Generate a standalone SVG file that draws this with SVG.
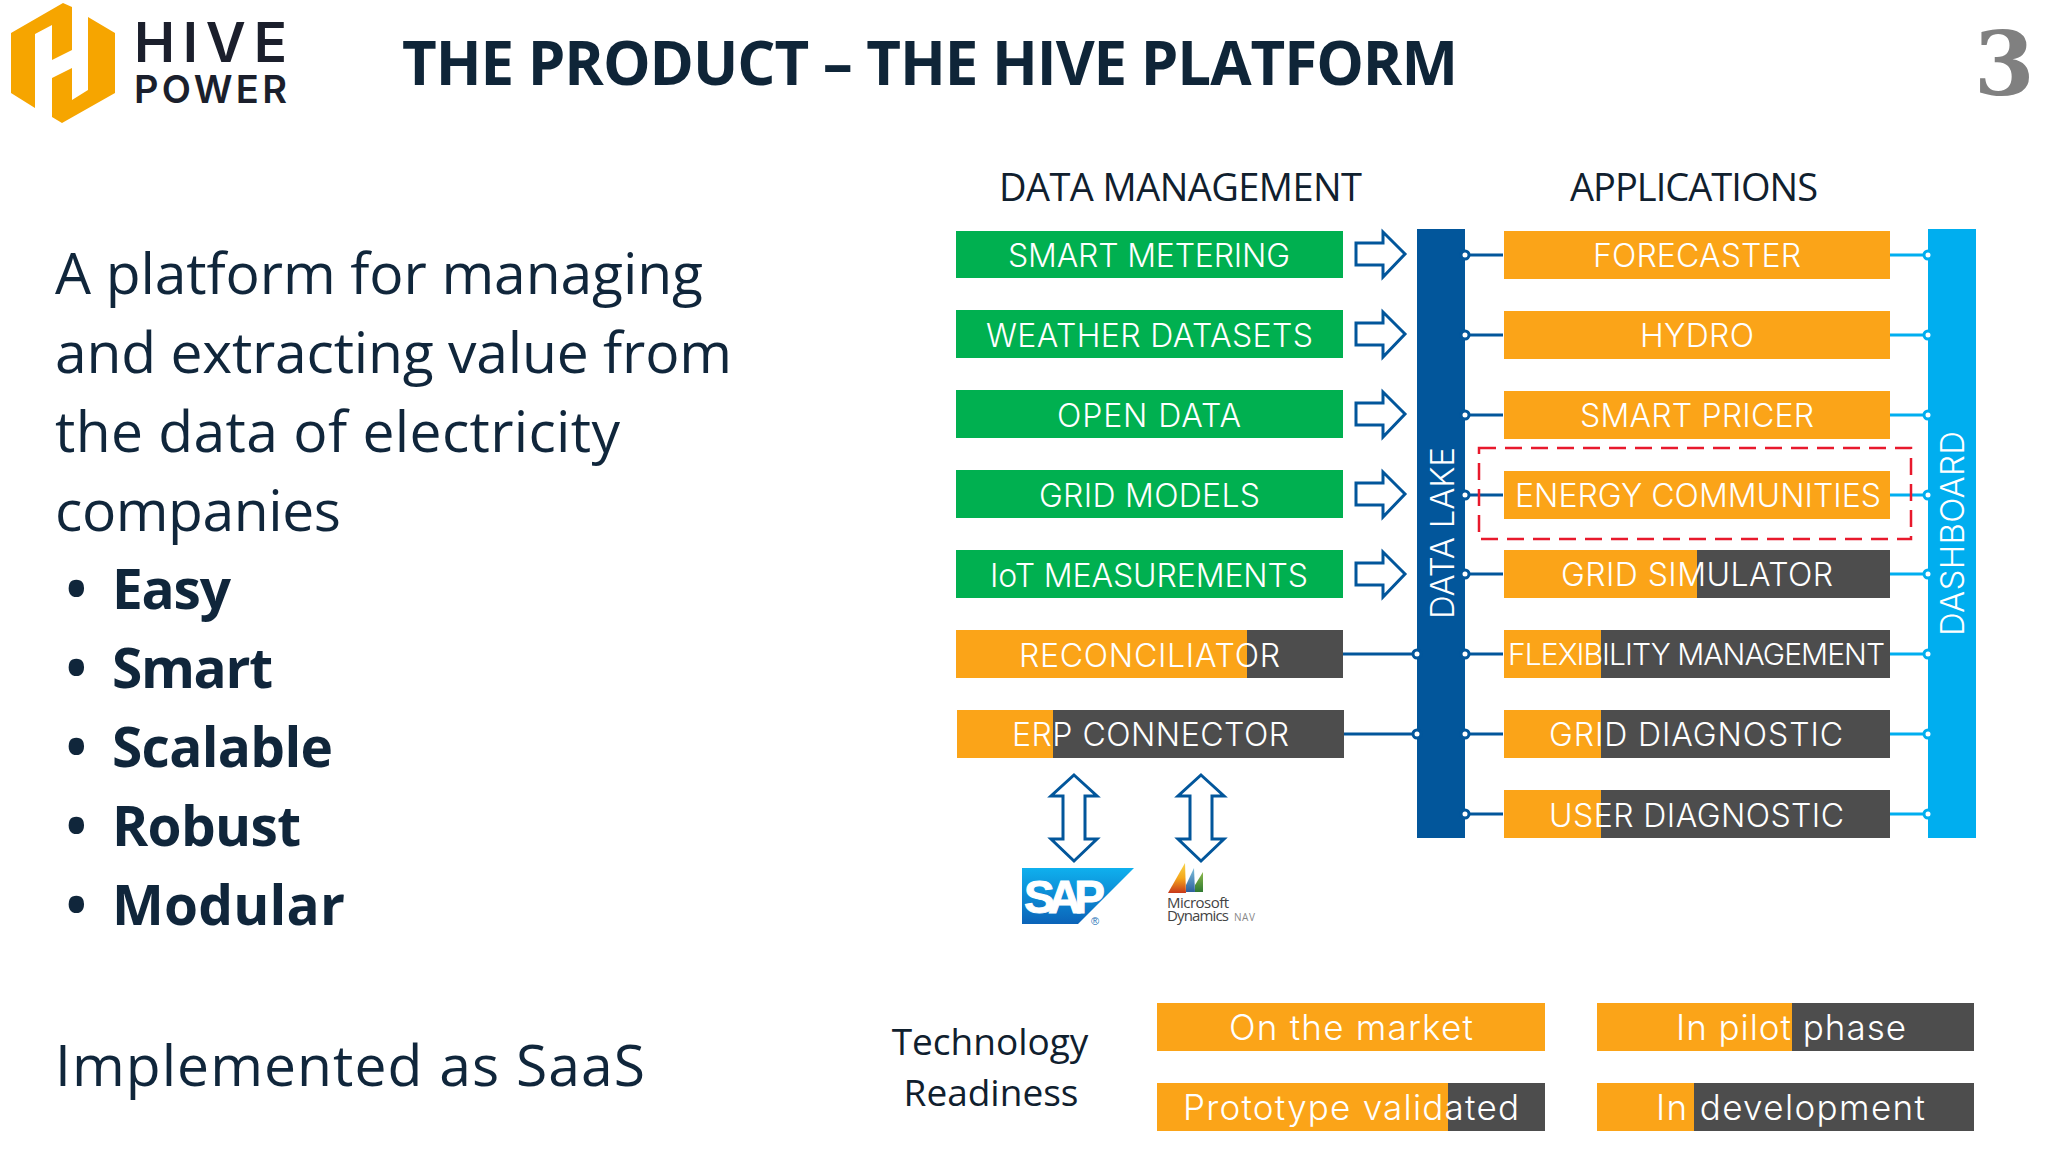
<svg xmlns="http://www.w3.org/2000/svg" width="2048" height="1152" viewBox="0 0 2048 1152">
<defs>
<style>
.o{fill:#fba418}.d{fill:#4d4d4d}.g{fill:#00b050}
.bl{font-family:"Inter","Open Sans",sans-serif;font-weight:300;font-size:32px;fill:#fff}
.lg{font-size:35px}
.h{font-family:"Open Sans",sans-serif;font-size:38px;fill:#10202e}
.h2{font-family:"Open Sans",sans-serif;font-size:37px;fill:#10202e}
.body{font-family:"Open Sans",sans-serif;font-size:57px;fill:#10263b}
.b{font-weight:700;font-size:55px}
.lk{stroke:#02569b;stroke-width:3;fill:none}
.lc{stroke:#00aeef;stroke-width:3;fill:none}
.dk{stroke:#02569b;stroke-width:3;fill:#fff}
.dc{stroke:#00aeef;stroke-width:3;fill:#fff}
.ar{stroke:#02569b;stroke-width:3;fill:#fff;stroke-linejoin:miter}
</style>
<linearGradient id="sapg" x1="0" y1="0" x2="0" y2="1"><stop offset="0" stop-color="#0fb0ee"/><stop offset="1" stop-color="#0b63b8"/></linearGradient>
<linearGradient id="s1" x1="0" y1="1" x2="0" y2="0"><stop offset="0" stop-color="#c8381a"/><stop offset=".5" stop-color="#f5a81c"/><stop offset="1" stop-color="#f7d44a"/></linearGradient>
<linearGradient id="s2" x1="0" y1="1" x2="0" y2="0"><stop offset="0" stop-color="#2e5f9e"/><stop offset="1" stop-color="#7cc0dc"/></linearGradient>
<linearGradient id="s3" x1="0" y1="1" x2="0" y2="0"><stop offset="0" stop-color="#2f7a32"/><stop offset="1" stop-color="#8cb84a"/></linearGradient>
</defs>
<rect width="2048" height="1152" fill="#fff"/>

<g id="logo">
<polygon fill="#f6a500" points="11,33 63,3 72,7 72,50 52,60 52,25 35,34 35,108 11,93"/>
<polygon fill="#f6a500" points="88,17 115,33 115,93 62,123 52,117 52,78 72,68 72,100 88,90"/>
<text x="134" y="62" textLength="153" style="font-family:'Inter',sans-serif;font-size:55px;font-weight:600;fill:#1b1f2c">HIVE</text>
<text x="134" y="103" textLength="153" style="font-family:'Inter',sans-serif;font-size:38px;font-weight:600;fill:#1b1f2c">POWER</text>
</g>
<text id="title" x="402" y="85" textLength="1056" style="font-family:'Open Sans',sans-serif;font-size:60px;font-weight:700;fill:#0f2538">THE PRODUCT – THE HIVE PLATFORM</text>
<text id="page-number" x="1974" y="95" style="font-family:'DejaVu Serif',serif;font-size:87px;font-weight:700;fill:#808080">3</text>

<g id="left-text">
<text class="body" x="55" y="294" textLength="648">A platform for managing</text>
<text class="body" x="55" y="373" textLength="677">and extracting value from</text>
<text class="body" x="55" y="452" textLength="565">the data of electricity</text>
<text class="body" x="55" y="531" textLength="286">companies</text>
<text class="body b" x="66" y="609">•</text><text class="body b" x="112" y="609" textLength="119">Easy</text>
<text class="body b" x="66" y="688">•</text><text class="body b" x="112" y="688" textLength="161">Smart</text>
<text class="body b" x="66" y="767">•</text><text class="body b" x="112" y="767" textLength="221">Scalable</text>
<text class="body b" x="66" y="846">•</text><text class="body b" x="112" y="846" textLength="189">Robust</text>
<text class="body b" x="66" y="925">•</text><text class="body b" x="112" y="925" textLength="233">Modular</text>
<text class="body" x="55" y="1086" textLength="590">Implemented as SaaS</text>
</g>

<text class="h" x="999" y="201" textLength="363">DATA MANAGEMENT</text>
<text class="h" x="1570" y="201" textLength="248">APPLICATIONS</text>

<g id="connectors">
<path class="lk" d="M1343 654H1417M1343 734H1417"/>
<path class="lk" d="M1465 255H1503M1465 335H1503M1465 415H1503M1465 495H1503M1465 574H1503M1465 654H1503M1465 734H1503M1465 814H1503"/>
<path class="lc" d="M1890 255H1928M1890 335H1928M1890 415H1928M1890 495H1928M1890 574H1928M1890 654H1928M1890 734H1928M1890 814H1928"/>
<g id="arrows-right">
<path class="ar" d="M1356 243H1383V232L1405 254L1383 277V265H1356Z"/>
<path class="ar" d="M1356 323H1383V312L1405 334L1383 357V345H1356Z"/>
<path class="ar" d="M1356 403H1383V392L1405 414L1383 437V425H1356Z"/>
<path class="ar" d="M1356 483H1383V472L1405 494L1383 517V505H1356Z"/>
<path class="ar" d="M1356 563H1383V552L1405 574L1383 597V585H1356Z"/>
</g>
<path class="ar" d="M1074 775L1097 796H1085V839H1097L1074 861L1051 839H1063V796H1051Z"/>
<path class="ar" d="M1201 775L1224 796H1212V839H1224L1201 861L1178 839H1190V796H1178Z"/>
</g>

<g id="data-management">
<g id="smart-metering"><rect class="g" x="956" y="231" width="387" height="47"/><text class="bl" x="1008" y="267" textLength="282">SMART METERING</text></g>
<g id="weather-datasets"><rect class="g" x="956" y="310" width="387" height="48"/><text class="bl" x="986" y="347" textLength="327">WEATHER DATASETS</text></g>
<g id="open-data"><rect class="g" x="956" y="390" width="387" height="48"/><text class="bl" x="1057" y="427" textLength="184">OPEN DATA</text></g>
<g id="grid-models"><rect class="g" x="956" y="470" width="387" height="48"/><text class="bl" x="1039" y="507" textLength="221">GRID MODELS</text></g>
<g id="iot-measurements"><rect class="g" x="956" y="550" width="387" height="48"/><text class="bl" x="990" y="587" textLength="318">IoT MEASUREMENTS</text></g>
<g id="reconciliator"><rect class="d" x="956" y="630" width="387" height="48"/><rect class="o" x="956" y="630" width="291" height="48"/><text class="bl" x="1019" y="667" textLength="261">RECONCILIATOR</text></g>
<g id="erp-connector"><rect class="d" x="957" y="710" width="387" height="48"/><rect class="o" x="957" y="710" width="96" height="48"/><text class="bl" x="1012" y="746" textLength="277">ERP CONNECTOR</text></g>
</g>

<g id="data-lake"><rect x="1417" y="229" width="48" height="609" fill="#02569b"/><text class="bl" transform="translate(1454 619) rotate(-90)" textLength="172" style="font-size:33px">DATA LAKE</text>
<circle class="dk" cx="1417" cy="654" r="4"/><circle class="dk" cx="1417" cy="734" r="4"/>
<circle class="dk" cx="1465" cy="255" r="4"/><circle class="dk" cx="1465" cy="335" r="4"/><circle class="dk" cx="1465" cy="415" r="4"/><circle class="dk" cx="1465" cy="495" r="4"/><circle class="dk" cx="1465" cy="574" r="4"/><circle class="dk" cx="1465" cy="654" r="4"/><circle class="dk" cx="1465" cy="734" r="4"/><circle class="dk" cx="1465" cy="814" r="4"/></g>

<g id="dashboard"><rect x="1928" y="229" width="48" height="609" fill="#00aeef"/><text class="bl" transform="translate(1964 636) rotate(-90)" textLength="205" style="font-size:33px">DASHBOARD</text>
<circle class="dc" cx="1928" cy="255" r="4"/><circle class="dc" cx="1928" cy="335" r="4"/><circle class="dc" cx="1928" cy="415" r="4"/><circle class="dc" cx="1928" cy="495" r="4"/><circle class="dc" cx="1928" cy="574" r="4"/><circle class="dc" cx="1928" cy="654" r="4"/><circle class="dc" cx="1928" cy="734" r="4"/><circle class="dc" cx="1928" cy="814" r="4"/></g>

<g id="applications">
<g id="forecaster"><rect class="o" x="1504" y="231" width="386" height="48"/><text class="bl" x="1593" y="267" textLength="208">FORECASTER</text></g>
<g id="hydro"><rect class="o" x="1504" y="311" width="386" height="48"/><text class="bl" x="1640" y="347" textLength="114">HYDRO</text></g>
<g id="smart-pricer"><rect class="o" x="1504" y="391" width="386" height="48"/><text class="bl" x="1580" y="427" textLength="234">SMART PRICER</text></g>
<g id="energy-communities"><rect class="o" x="1504" y="471" width="386" height="48"/><text class="bl" x="1515" y="507" textLength="366">ENERGY COMMUNITIES</text></g>
<g id="grid-simulator"><rect class="d" x="1504" y="550" width="386" height="48"/><rect class="o" x="1504" y="550" width="193" height="48"/><text class="bl" x="1561" y="586" textLength="272">GRID SIMULATOR</text></g>
<g id="flexibility-management"><rect class="d" x="1504" y="630" width="386" height="48"/><rect class="o" x="1504" y="630" width="97" height="48"/><text class="bl" x="1508" y="665" textLength="377" style="font-size:30px">FLEXIBILITY MANAGEMENT</text></g>
<g id="grid-diagnostic"><rect class="d" x="1504" y="710" width="386" height="48"/><rect class="o" x="1504" y="710" width="97" height="48"/><text class="bl" x="1549" y="746" textLength="294">GRID DIAGNOSTIC</text></g>
<g id="user-diagnostic"><rect class="d" x="1504" y="790" width="386" height="48"/><rect class="o" x="1504" y="790" width="97" height="48"/><text class="bl" x="1549" y="827" textLength="295">USER DIAGNOSTIC</text></g>
</g>
<rect id="highlight" x="1479" y="448" width="432" height="91" fill="none" stroke="#e8192c" stroke-width="2.5" stroke-dasharray="17 9"/>

<g id="sap-logo">
<polygon points="1022,868 1134,868 1078,924 1022,924" fill="url(#sapg)"/>
<text x="1024" y="913" textLength="81" style="font-family:'Liberation Sans',sans-serif;font-size:46px;font-weight:700;fill:#fff;stroke:#fff;stroke-width:1">SAP</text>
<text x="1091" y="925" style="font-family:'Liberation Sans',sans-serif;font-size:11px;fill:#1a6fb5">®</text>
</g>
<g id="dynamics-logo">
<polygon points="1168,893 1185,863 1186,893" fill="url(#s1)"/>
<polygon points="1186,885 1194,868 1195,892 1186,892" fill="url(#s2)"/>
<polygon points="1195,885 1203,872 1203,892 1195,892" fill="url(#s3)"/>
<text x="1167" y="908" textLength="62" style="font-family:'Open Sans',sans-serif;font-size:15px;fill:#444">Microsoft</text>
<text x="1167" y="921" textLength="62" style="font-family:'Open Sans',sans-serif;font-size:15px;fill:#444">Dynamics</text>
<text x="1234" y="921" textLength="21" style="font-family:'Open Sans',sans-serif;font-size:10px;fill:#888">NAV</text>
</g>

<g id="readiness-label">
<text class="h2" x="990" y="1055" text-anchor="middle">Technology</text>
<text class="h2" x="991" y="1106" text-anchor="middle">Readiness</text>
</g>
<g id="legend">
<g id="on-the-market"><rect class="o" x="1157" y="1003" width="388" height="48"/><text class="bl lg" x="1229" y="1040" textLength="244">On the market</text></g>
<g id="prototype-validated"><rect class="d" x="1157" y="1083" width="388" height="48"/><rect class="o" x="1157" y="1083" width="291" height="48"/><text class="bl lg" x="1183" y="1120" textLength="336">Prototype validated</text></g>
<g id="in-pilot-phase"><rect class="d" x="1597" y="1003" width="377" height="48"/><rect class="o" x="1597" y="1003" width="195" height="48"/><text class="bl lg" x="1676" y="1040" textLength="230">In pilot phase</text></g>
<g id="in-development"><rect class="d" x="1597" y="1083" width="377" height="48"/><rect class="o" x="1597" y="1083" width="97" height="48"/><text class="bl lg" x="1656" y="1120" textLength="269">In development</text></g>
</g>
</svg>
